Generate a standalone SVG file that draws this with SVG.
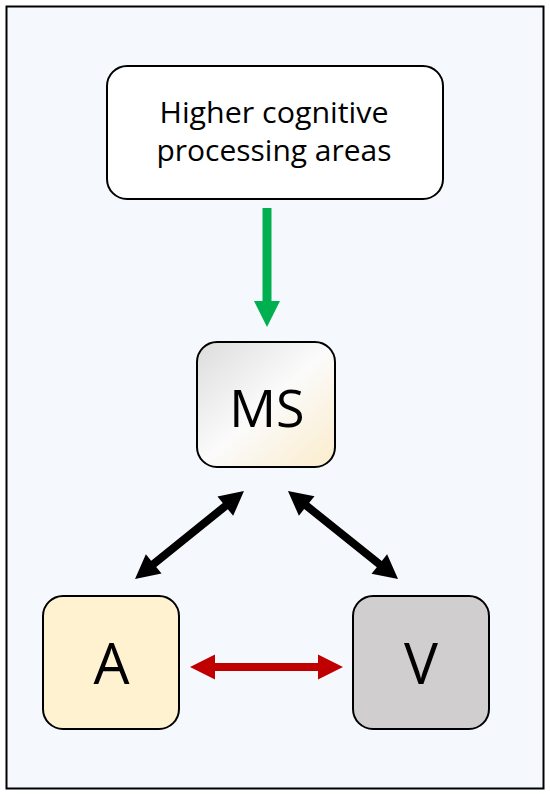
<svg xmlns="http://www.w3.org/2000/svg" width="550" height="795" viewBox="0 0 550 795">
  <defs>
    <linearGradient id="msGrad" x1="0" y1="0" x2="1" y2="1">
      <stop offset="0" stop-color="#dcdcdc"/>
      <stop offset="0.5" stop-color="#fbfbfb"/>
      <stop offset="1" stop-color="#fbeccb"/>
    </linearGradient>
    <style>
      .box { stroke: #000; stroke-width: 2; }
      .lbl { font-family: "Open Sans", "Noto Sans", "Liberation Sans", sans-serif; fill: #000; text-anchor: middle; }
    </style>
  </defs>
  <rect x="0" y="0" width="550" height="795" fill="#ffffff"/>
  <rect id="frame" x="6.5" y="6.5" width="537" height="782" fill="#f5f8fd" stroke="#000" stroke-width="2"/>

  <g id="higher">
    <rect class="box" x="107" y="66" width="336" height="133" rx="20" ry="20" fill="#ffffff"/>
    <text class="lbl" x="274" y="123" font-size="28.5" textLength="229" lengthAdjust="spacingAndGlyphs">Higher cognitive</text>
    <text class="lbl" x="274" y="161" font-size="28.5" textLength="235" lengthAdjust="spacingAndGlyphs">processing areas</text>
  </g>

  <g id="ms">
    <rect class="box" x="197" y="342" width="138" height="125" rx="20" ry="20" fill="url(#msGrad)"/>
    <text class="lbl" x="267" y="427" font-size="52">MS</text>
  </g>

  <g id="a">
    <rect class="box" x="43" y="596" width="136" height="133" rx="20" ry="20" fill="#fff2d0"/>
    <text class="lbl" x="111.5" y="684" font-size="57">A</text>
  </g>

  <g id="v">
    <rect class="box" x="353" y="596" width="136" height="133" rx="20" ry="20" fill="#d0cece"/>
    <text class="lbl" x="421" y="684" font-size="57">V</text>
  </g>

  <g id="connectors">
    <polygon fill="#00b050" points="262.5,208 271.5,208 271.5,301 280,301 267,327 254,301 262.5,301"/>
    <g transform="translate(189.5,535) rotate(-38.9)">
      <polygon fill="#000" points="-70,0 -46,-12.5 -46,-4 46,-4 46,-12.5 70,0 46,12.5 46,4 -46,4 -46,12.5"/>
    </g>
    <g transform="translate(343,535) rotate(38.66)">
      <polygon fill="#000" points="-70.5,0 -46.5,-12.5 -46.5,-4 46.5,-4 46.5,-12.5 70.5,0 46.5,12.5 46.5,4 -46.5,4 -46.5,12.5"/>
    </g>
    <polygon fill="#c00000" points="190,667 215,654.5 215,663 318,663 318,654.5 343,667 318,679.5 318,671 215,671 215,679.5"/>
  </g>
</svg>
